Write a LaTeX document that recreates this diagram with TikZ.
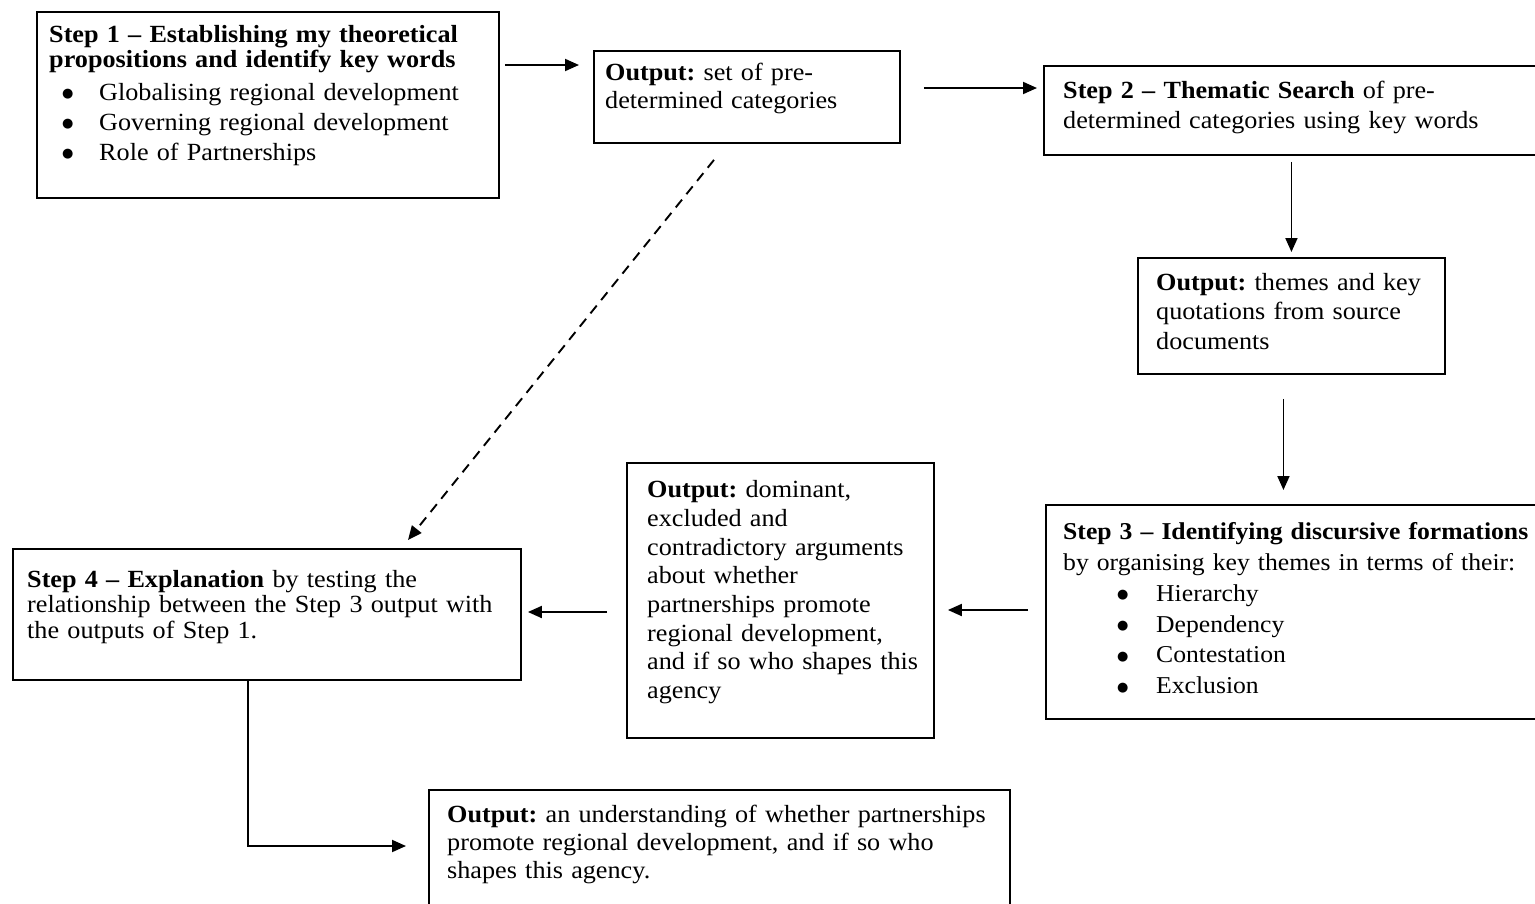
\documentclass[tikz,border=0pt]{standalone}
\usepackage{fontspec}
\setmainfont{Liberation Serif}[FakeStretch=1.06]
\newfontfamily\bulletfont{DejaVu Sans}
\usetikzlibrary{arrows.meta}
\newcommand\blt[3]{\hspace*{#1}\makebox[#2][l]{\raisebox{2.5pt}{\bulletfont\fontsize{13}{13}\selectfont ●}}#3}
\tikzset{
  box/.style={draw, line width=1.9pt, inner sep=0pt, anchor=north west},
  txt/.style={inner sep=0pt, anchor=north west, align=left, text width=560pt},
  arr/.style={line width=1.9pt, -{Triangle[length=14pt,width=12pt]}},
}
\frenchspacing
\begin{document}
\begin{tikzpicture}[x=1pt,y=-1pt]
\fill[white] (0,0) rectangle (1535,903);
\useasboundingbox (0,0) rectangle (1535,903);

% boxes
\node[box, minimum width=462pt, minimum height=186pt] (s1) at (36,11) {};
\node[box, minimum width=306pt, minimum height=92pt]  (o1) at (593,50) {};
\node[box, minimum width=500pt, minimum height=89pt]  (s2) at (1043,65) {};
\node[box, minimum width=307pt, minimum height=116pt] (o2) at (1137,257) {};
\node[box, minimum width=500pt, minimum height=214pt] (s3) at (1045,504) {};
\node[box, minimum width=307pt, minimum height=275pt] (o3) at (626,462) {};
\node[box, minimum width=508pt, minimum height=131pt] (s4) at (12,548) {};
\node[box, minimum width=581pt, minimum height=130pt] (o4) at (428,789) {};

% texts
\node[txt, font=\fontsize{24.7}{25}\selectfont] (s1t) at (49,24.5) {\strut\textbf{Step 1 – Establishing my theoretical}\\
\textbf{propositions and identify key words}\\[8pt]
\blt{13pt}{37pt}{Globalising regional development}\\[5pt]
\blt{13pt}{37pt}{Governing regional development}\\[5pt]
\blt{13pt}{37pt}{Role of Partnerships}};

\node[txt, font=\fontsize{24.7}{28}\selectfont] (o1t) at (605,60.4) {\strut\textbf{Output:} set of pre-\\determined categories};

\node[txt, font=\fontsize{24.7}{30}\selectfont] (s2t) at (1063,77) {\strut\textbf{Step 2 – Thematic Search} of pre-\\determined categories using key words};

\node[txt, font=\fontsize{24.7}{29.5}\selectfont] (o2t) at (1156,269.5) {\strut\textbf{Output:} themes and key\\quotations from source\\documents};

\node[txt, font=\fontsize{24.2}{30.8}\selectfont] (s3t) at (1063,518) {\strut\textbf{Step 3 – Identifying discursive formations}\\
by organising key themes in terms of their:\\
\blt{54pt}{39pt}{Hierarchy}\\
\blt{54pt}{39pt}{Dependency}\\
\blt{54pt}{39pt}{Contestation}\\
\blt{54pt}{39pt}{Exclusion}};

\node[txt, font=\fontsize{24.7}{28.7}\selectfont] (o3t) at (647,477.5) {\strut\textbf{Output:} dominant,\\excluded and\\contradictory arguments\\about whether\\partnerships promote\\regional development,\\and if so who shapes this\\agency};

\node[txt, font=\fontsize{24.7}{25.5}\selectfont] (s4t) at (27,569) {\strut\textbf{Step 4 – Explanation} by testing the\\relationship between the Step 3 output with\\the outputs of Step 1.};

\node[txt, font=\fontsize{24.7}{28}\selectfont] (o4t) at (447,803) {\strut\textbf{Output:} an understanding of whether partnerships\\promote regional development, and if so who\\shapes this agency.};

% connectors
\draw[arr] ([shift={(5,54)}]s1.north east) -- ([shift={(-14,15)}]o1.north west);
\draw[arr] ([shift={(23,38)}]o1.north east) -- ([shift={(-6,23)}]s2.north west);
\draw[arr] ([shift={(0,6)}]s2.south -| o2.north) -- ([shift={(0,-5)}]o2.north);
\draw[arr] ([shift={(-8,24)}]o2.south) -- ([shift={(-8,-14)}]o2.south |- s3.north);
\draw[arr] ([shift={(-17,106)}]s3.north west) -- ([shift={(13,148)}]o3.north east);
\draw[arr] ([shift={(-19,150)}]o3.north west) -- ([shift={(6,64)}]s4.north east);
\draw[arr, dashed, dash pattern=on 10pt off 7pt] ([shift={(121,16)}]o1.south west) -- ([shift={(396,-8)}]s4.north west);
\draw[arr] ([shift={(236,0)}]s4.south west) |- ([shift={(-22,57)}]o4.north west);
\end{tikzpicture}
\end{document}
